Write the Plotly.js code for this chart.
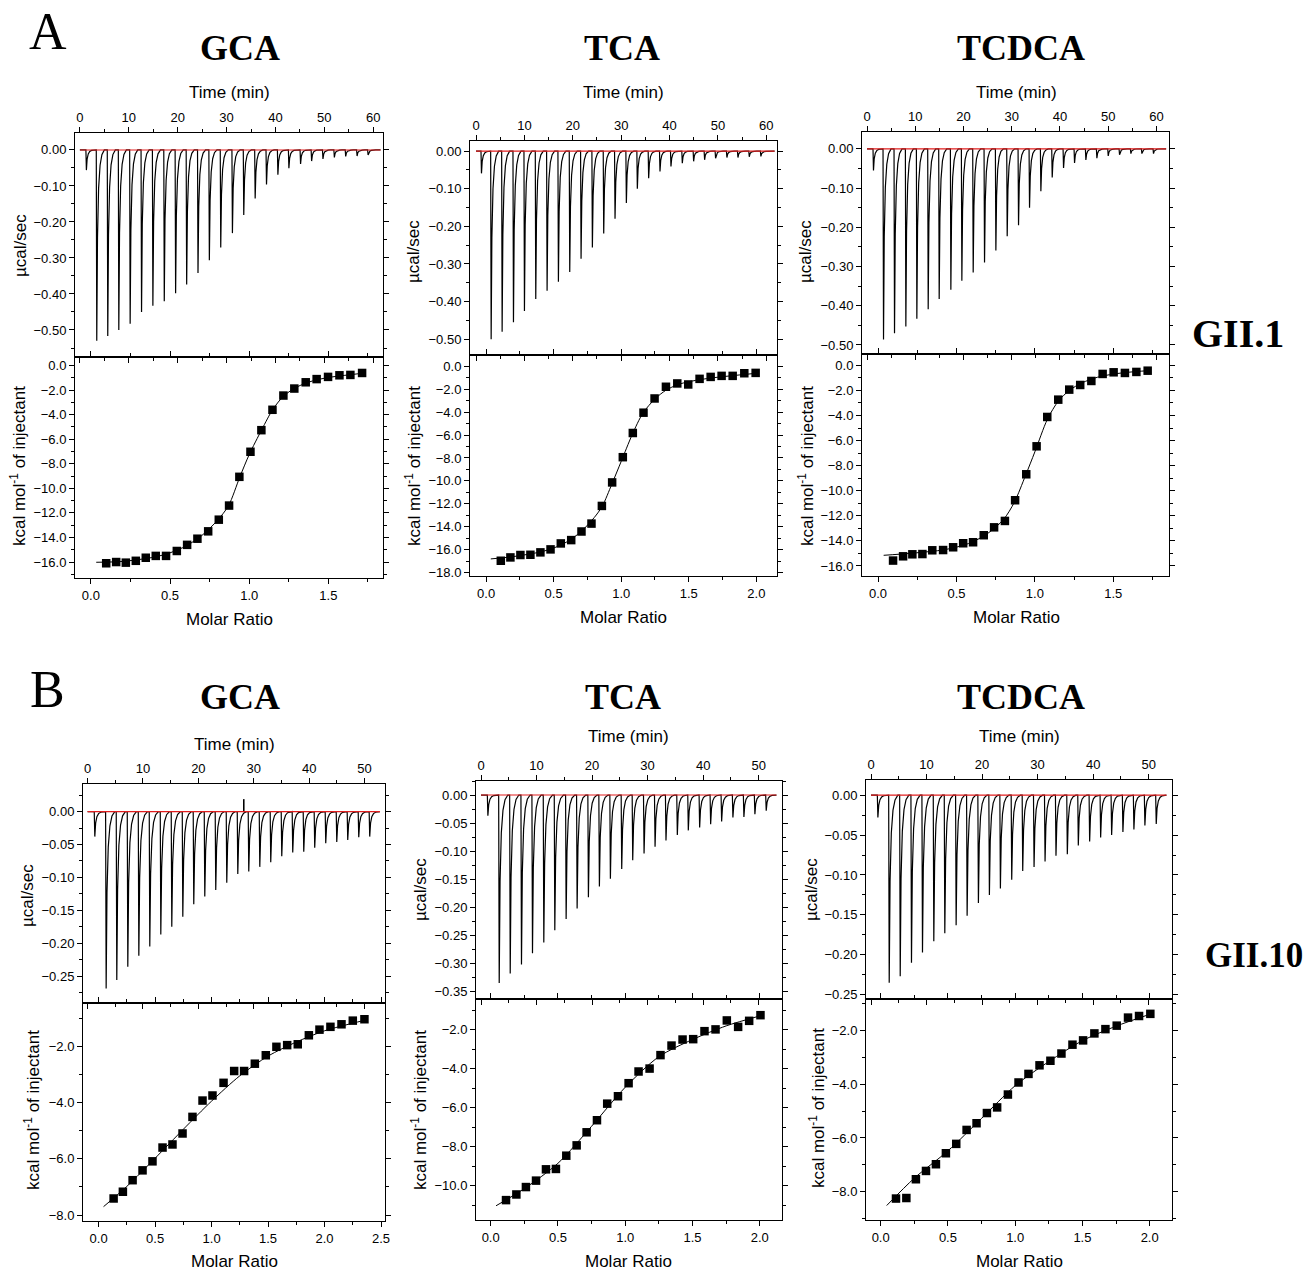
<!DOCTYPE html>
<html><head><meta charset="utf-8">
<script src="https://cdn.plot.ly/plotly-3.0.1.min.js"></script>
<style>html,body{margin:0;padding:0;background:#fff;} #chart{width:1303px;height:1271px;}</style>
</head><body><div id="chart"></div>
<script>
// ---------- A / GII.1 / GCA ----------
const aGcaInjTime = [1.23,3.35,5.60,7.86,10.18,12.51,14.83,17.16,19.48,21.74,24.06,26.38,28.71,31.10,33.42,35.75,38.07,40.40,42.65,45.04,47.30,49.62,51.95,54.27,56.60,58.85];
const aGcaInjPeak = [-0.056,-0.53,-0.517,-0.50,-0.483,-0.45,-0.433,-0.42,-0.398,-0.374,-0.342,-0.306,-0.271,-0.231,-0.181,-0.135,-0.096,-0.069,-0.051,-0.039,-0.031,-0.025,-0.021,-0.018,-0.017,-0.014];
const aGcaBaseT = [0, 61.5];
const aGcaRatio = [0.097,0.160,0.221,0.284,0.347,0.410,0.475,0.543,0.608,0.673,0.741,0.808,0.873,0.938,1.008,1.077,1.147,1.216,1.285,1.357,1.426,1.498,1.570,1.639,1.713];
const aGcaHeat = [-16.1,-16.0,-16.05,-15.9,-15.65,-15.5,-15.5,-15.1,-14.6,-14.1,-13.5,-12.55,-11.4,-9.06,-7.02,-5.26,-3.6,-2.44,-1.87,-1.36,-1.1,-0.92,-0.79,-0.76,-0.6];
const aGcaFitX = [0.034,0.2,0.4,0.5,0.6,0.7,0.8,0.87,0.94,1.0,1.08,1.15,1.22,1.3,1.4,1.5,1.6,1.713];
const aGcaFitY = [-16.02,-15.95,-15.6,-15.25,-14.7,-13.85,-12.6,-11.4,-9.1,-7.25,-5.2,-3.55,-2.45,-1.75,-1.25,-0.97,-0.8,-0.63];

// ---------- A / GII.1 / TCA ----------
const aTcaInjTime = [1.03,3.03,5.30,7.64,9.91,12.25,14.59,16.93,19.27,21.61,23.95,26.29,28.63,30.97,33.24,35.58,37.92,40.19,42.53,44.87,47.14,49.41,51.75,54.03,56.37,58.77];
const aTcaInjPeak = [-0.059,-0.50,-0.48,-0.455,-0.425,-0.393,-0.371,-0.347,-0.321,-0.286,-0.256,-0.219,-0.18,-0.138,-0.100,-0.072,-0.054,-0.041,-0.032,-0.027,-0.023,-0.019,-0.017,-0.017,-0.015,-0.014];
const aTcaBaseT = [0, 61.7];
const aTcaRatio = [0.109,0.180,0.254,0.328,0.402,0.477,0.553,0.630,0.706,0.780,0.857,0.933,1.012,1.086,1.165,1.247,1.331,1.415,1.496,1.580,1.662,1.743,1.825,1.911,1.995];
const aTcaHeat = [-16.96,-16.67,-16.46,-16.44,-16.23,-15.97,-15.45,-15.16,-14.41,-13.72,-12.18,-10.13,-7.93,-5.82,-4.05,-2.81,-1.79,-1.50,-1.59,-1.10,-0.93,-0.84,-0.84,-0.61,-0.58];
const aTcaFitX = [0.035,0.2,0.4,0.5,0.6,0.7,0.8,0.86,0.93,1.0,1.08,1.16,1.25,1.33,1.42,1.5,1.65,1.8,1.995];
const aTcaFitY = [-16.8,-16.6,-16.2,-15.85,-15.3,-14.45,-13.2,-12.2,-10.3,-8.3,-6.0,-4.1,-2.85,-2.1,-1.6,-1.35,-1.05,-0.85,-0.62];

// ---------- A / GII.1 / TCDCA ----------
const aTcdcaInjTime = [1.24,3.32,5.60,7.95,10.23,12.58,14.86,17.28,19.56,21.91,24.26,26.61,28.96,31.31,33.59,35.94,38.29,40.64,42.92,45.27,47.55,49.90,52.25,54.60,56.88,59.29];
const aTcdcaInjPeak = [-0.055,-0.486,-0.470,-0.453,-0.433,-0.409,-0.383,-0.359,-0.336,-0.315,-0.29,-0.259,-0.223,-0.195,-0.150,-0.108,-0.073,-0.049,-0.036,-0.028,-0.024,-0.018,-0.015,-0.012,-0.012,-0.012];
const aTcdcaBaseT = [0, 62.0];
const aTcdcaRatio = [0.096,0.160,0.219,0.283,0.346,0.415,0.479,0.543,0.606,0.674,0.740,0.809,0.874,0.945,1.011,1.079,1.149,1.219,1.289,1.360,1.432,1.502,1.574,1.647,1.719];
const aTcdcaHeat = [-15.57,-15.23,-15.07,-15.05,-14.75,-14.73,-14.51,-14.19,-14.11,-13.55,-12.92,-12.41,-10.76,-8.69,-6.46,-4.12,-2.74,-1.94,-1.57,-1.25,-0.69,-0.56,-0.61,-0.53,-0.43];
const aTcdcaFitX = [0.036,0.2,0.4,0.5,0.6,0.7,0.8,0.87,0.94,1.0,1.08,1.15,1.22,1.3,1.4,1.5,1.6,1.719];
const aTcdcaFitY = [-15.15,-15.0,-14.75,-14.5,-14.1,-13.4,-12.3,-10.9,-8.8,-6.9,-4.3,-2.85,-2.0,-1.4,-0.95,-0.7,-0.55,-0.43];

// ---------- B / GII.10 / GCA ----------
const bGcaInjTime = [1.20,3.25,5.17,7.16,9.15,11.13,13.12,15.10,17.09,19.07,21.06,23.04,25.03,27.02,29.00,30.99,32.97,34.96,36.94,38.93,40.91,42.90,44.89,46.87,48.86,50.84];
const bGcaInjPeak = [-0.038,-0.269,-0.256,-0.236,-0.219,-0.205,-0.187,-0.175,-0.160,-0.141,-0.129,-0.119,-0.108,-0.095,-0.091,-0.084,-0.077,-0.068,-0.062,-0.061,-0.055,-0.048,-0.046,-0.043,-0.039,-0.038];
const bGcaArtifactTime = [28.2];
const bGcaArtifactValue = [0.019];
const bGcaBaseT = [0, 52.8];
const bGcaRatio = [0.133,0.215,0.301,0.389,0.477,0.566,0.654,0.743,0.831,0.920,1.008,1.106,1.200,1.288,1.383,1.480,1.574,1.669,1.763,1.861,1.955,2.052,2.150,2.250,2.353];
const bGcaHeat = [-7.41,-7.17,-6.76,-6.41,-6.09,-5.60,-5.49,-5.10,-4.51,-3.93,-3.75,-3.30,-2.88,-2.88,-2.62,-2.32,-2.02,-1.96,-1.93,-1.61,-1.41,-1.31,-1.22,-1.09,-1.04];
const bGcaFitX = [0.044,0.25,0.5,0.75,1.0,1.25,1.5,1.75,2.0,2.25,2.353];
const bGcaFitY = [-7.70,-6.98,-5.98,-4.95,-3.95,-3.05,-2.35,-1.85,-1.45,-1.18,-1.08];

// ---------- B / GII.10 / TCA ----------
const bTcaInjTime = [1.14,3.18,5.16,7.19,9.17,11.21,13.19,15.23,17.21,19.24,21.22,23.20,25.24,27.22,29.26,31.24,33.21,35.25,37.23,39.27,41.25,43.23,45.26,47.24,49.22,51.26];
const bTcaInjPeak = [-0.037,-0.335,-0.318,-0.302,-0.282,-0.263,-0.241,-0.221,-0.202,-0.182,-0.163,-0.149,-0.132,-0.116,-0.104,-0.092,-0.081,-0.071,-0.063,-0.058,-0.052,-0.047,-0.040,-0.039,-0.034,-0.028];
const bTcaBaseT = [0, 53.2];
const bTcaRatio = [0.114,0.191,0.262,0.337,0.411,0.485,0.562,0.639,0.713,0.790,0.866,0.946,1.025,1.099,1.181,1.262,1.344,1.426,1.505,1.589,1.671,1.755,1.839,1.921,2.005];
const bTcaHeat = [-10.74,-10.45,-10.07,-9.74,-9.16,-9.14,-8.46,-7.93,-7.26,-6.64,-5.79,-5.41,-4.74,-4.14,-3.99,-3.30,-2.81,-2.50,-2.48,-2.07,-1.98,-1.52,-1.85,-1.54,-1.25];
const bTcaFitX = [0.04,0.25,0.5,0.75,1.0,1.25,1.5,1.75,2.005];
const bTcaFitY = [-11.03,-10.15,-8.85,-6.95,-4.95,-3.38,-2.5,-1.8,-1.28];

// ---------- B / GII.10 / TCDCA ----------
const bTcdcaInjTime = [1.14,3.18,5.16,7.19,9.17,11.21,13.19,15.23,17.21,19.24,21.22,23.20,25.24,27.22,29.26,31.24,33.21,35.25,37.23,39.27,41.25,43.23,45.26,47.24,49.22,51.26];
const bTcdcaInjPeak = [-0.028,-0.235,-0.227,-0.210,-0.197,-0.183,-0.173,-0.163,-0.151,-0.135,-0.125,-0.117,-0.106,-0.095,-0.090,-0.083,-0.076,-0.074,-0.063,-0.058,-0.053,-0.050,-0.046,-0.043,-0.038,-0.036];
const bTcdcaBaseT = [0, 53.2];
const bTcdcaRatio = [0.114,0.191,0.262,0.337,0.411,0.485,0.562,0.639,0.713,0.790,0.866,0.946,1.025,1.099,1.181,1.262,1.344,1.426,1.505,1.589,1.671,1.755,1.839,1.921,2.005];
const bTcdcaHeat = [-8.26,-8.24,-7.54,-7.23,-6.98,-6.57,-6.22,-5.70,-5.45,-5.07,-4.86,-4.38,-3.93,-3.61,-3.29,-3.12,-2.85,-2.52,-2.36,-2.10,-1.94,-1.81,-1.51,-1.45,-1.37];
const bTcdcaFitX = [0.045,0.25,0.5,0.75,1.0,1.25,1.5,1.75,2.005];
const bTcdcaFitY = [-8.52,-7.5,-6.48,-5.27,-4.05,-3.15,-2.37,-1.83,-1.38];

// ---------- labels ----------
const compoundNames = ['GCA','TCA','TCDCA'];
const sectionLetters = ['A','B'];
const strainNames = ['GII.1','GII.10'];
const timeTitle = 'Time (min)';
const ratioTitle = 'Molar Ratio';
const powerTitle = 'µcal/sec';
const heatTitle = 'kcal mol<sup>-1</sup> of injectant';

// ---------- rendering ----------
const W = 1303, H = 1271;
const SANS = '"Liberation Sans", Arial, sans-serif';
const SERIF = '"Liberation Serif", "Times New Roman", serif';
// shape template of one injection peak (time offset in min, fraction of peak depth)
const PEAK_OFFSET = [0, 0.1, 0.25, 0.48, 0.78, 1.15, 1.65];
const PEAK_SHAPE  = [0, 1, 0.46, 0.2, 0.08, 0.025, 0];

function rawTrace(times, peaks, baseT) {
  const x = [baseT[0]], y = [0];
  for (let i = 0; i < times.length; i++) {
    for (let k = 0; k < PEAK_OFFSET.length; k++) {
      x.push(times[i] + PEAK_OFFSET[k]);
      y.push(peaks[i] * PEAK_SHAPE[k]);
    }
  }
  x.push(baseT[1]); y.push(0);
  return {x, y};
}

const panels = [
  {inj:[aGcaInjTime,aGcaInjPeak], base:aGcaBaseT, pts:[aGcaRatio,aGcaHeat], fit:[aGcaFitX,aGcaFitY],
   px:[75,383], top:[133,357], bot:[357,578], tR:[-1,62], pR:[-0.575,0.047], pD:0.1, mR:[-0.1,1.845], hR:[-17.3,0.7]},
  {inj:[aTcaInjTime,aTcaInjPeak], base:aTcaBaseT, pts:[aTcaRatio,aTcaHeat], fit:[aTcaFitX,aTcaFitY],
   px:[470,777], top:[141,355], bot:[355,576], tR:[-1.24,62.2], pR:[-0.542,0.027], pD:0.1, mR:[-0.119,2.153], hR:[-18.29,0.98]},
  {inj:[aTcdcaInjTime,aTcdcaInjPeak], base:aTcdcaBaseT, pts:[aTcdcaRatio,aTcdcaHeat], fit:[aTcdcaFitX,aTcdcaFitY],
   px:[862,1169], top:[132,354], bot:[354,576], tR:[-1.04,62.6], pR:[-0.523,0.043], pD:0.1, mR:[-0.102,1.855], hR:[-16.8,0.9]},
  {inj:[bGcaInjTime,bGcaInjPeak], base:bGcaBaseT, pts:[bGcaRatio,bGcaHeat], fit:[bGcaFitX,bGcaFitY],
   art:[bGcaArtifactTime,bGcaArtifactValue],
   px:[83,385], top:[784,1003], bot:[1003,1221], tR:[-0.83,53.7], pR:[-0.291,0.042], pD:0.05, mR:[-0.138,2.535], hR:[-8.21,-0.463]},
  {inj:[bTcaInjTime,bTcaInjPeak], base:bTcaBaseT, pts:[bTcaRatio,bTcaHeat], fit:[bTcaFitX,bTcaFitY],
   px:[476,782], top:[781,999], bot:[999,1220], tR:[-0.9,54.2], pR:[-0.3635,0.025], pD:0.05, mR:[-0.109,2.165], hR:[-11.76,-0.42]},
  {inj:[bTcdcaInjTime,bTcdcaInjPeak], base:bTcdcaBaseT, pts:[bTcdcaRatio,bTcdcaHeat], fit:[bTcdcaFitX,bTcdcaFitY],
   px:[866,1172], top:[780,999], bot:[999,1220], tR:[-0.9,54.2], pR:[-0.2554,0.019], pD:0.05, mR:[-0.109,2.166], hR:[-9.06,-0.816]}
];

function axBase() {
  return {showline:true, linecolor:'#000', linewidth:1, mirror:'allticks', ticks:'outside', ticklen:5,
          tickwidth:1, tickcolor:'#000', showgrid:false, zeroline:false, fixedrange:true,
          tickfont:{family:SANS, size:13, color:'#000'}};
}
const xd = (a) => [a[0]/W, a[1]/W];
const yd = (a) => [1 - a[1]/H, 1 - a[0]/H];

const traces = [];
const layout = {width:W, height:H, margin:{l:0,r:0,t:0,b:0}, paper_bgcolor:'#fff', plot_bgcolor:'#fff',
                showlegend:false, annotations:[]};

panels.forEach((p, i) => {
  const nT = 2*i + 1, nB = 2*i + 2;
  const sx = (n) => n === 1 ? 'x' : 'x' + n;
  const sy = (n) => n === 1 ? 'y' : 'y' + n;
  const kx = (n) => n === 1 ? 'xaxis' : 'xaxis' + n;
  const ky = (n) => n === 1 ? 'yaxis' : 'yaxis' + n;

  // top raw power
  layout[kx(nT)] = Object.assign(axBase(), {domain:xd(p.px), anchor:sy(nT), side:'top', range:p.tR, tick0:0, dtick:10,
      minor:{ticks:'outside', ticklen:3, tickcolor:'#000', dtick:5, tick0:0, showgrid:false}});
  layout[ky(nT)] = Object.assign(axBase(), {domain:yd(p.top), anchor:sx(nT), range:p.pR, tick0:0, dtick:p.pD, tickformat:'.2f',
      minor:{ticks:'outside', ticklen:3, tickcolor:'#000', dtick:p.pD/2, tick0:0, showgrid:false}});
  // bottom integrated heat
  layout[kx(nB)] = Object.assign(axBase(), {domain:xd(p.px), anchor:sy(nB), side:'bottom', range:p.mR, tick0:0, dtick:0.5, tickformat:'.1f',
      minor:{ticks:'outside', ticklen:3, tickcolor:'#000', dtick:0.25, tick0:0, showgrid:false}});
  layout[ky(nB)] = Object.assign(axBase(), {domain:yd(p.bot), anchor:sx(nB), range:p.hR, tick0:0, dtick:2, tickformat:'.1f',
      minor:{ticks:'outside', ticklen:3, tickcolor:'#000', dtick:1, tick0:0, showgrid:false}});

  const r = rawTrace(p.inj[0], p.inj[1], p.base);
  traces.push({type:'scatter', mode:'lines', x:r.x, y:r.y, xaxis:sx(nT), yaxis:sy(nT),
               line:{color:'#000', width:1.2}, hoverinfo:'skip'});
  if (p.art) {
    p.art[0].forEach((t, k) => {
      traces.push({type:'scatter', mode:'lines', x:[t, t], y:[0, p.art[1][k]], xaxis:sx(nT), yaxis:sy(nT),
                   line:{color:'#000', width:1.6}, hoverinfo:'skip'});
    });
  }
  traces.push({type:'scatter', mode:'lines', x:p.base, y:p.base.map(() => 0), xaxis:sx(nT), yaxis:sy(nT),
               line:{color:'rgb(225,30,30)', width:1.1}, hoverinfo:'skip'});

  traces.push({type:'scatter', mode:'lines', x:p.fit[0], y:p.fit[1], xaxis:sx(nB), yaxis:sy(nB),
               line:{color:'#000', width:1, shape:'spline', smoothing:0.8}, hoverinfo:'skip'});
  traces.push({type:'scatter', mode:'markers', x:p.pts[0], y:p.pts[1], xaxis:sx(nB), yaxis:sy(nB),
               marker:{symbol:'square', size:8.5, color:'#000', line:{width:0}}, hoverinfo:'skip'});
});

function ann(text, x, y, font, extra) {
  layout.annotations.push(Object.assign({text:text, xref:'paper', yref:'paper', x:x/W, y:1 - y/H,
    xanchor:'center', yanchor:'middle', showarrow:false, font:font}, extra || {}));
}
const titleFont = {family:SANS, size:17, color:'#000'};
const boldSerif = {family:SERIF, size:36, color:'#000'};

// compound names
[[240,48],[622,48],[1021,48]].forEach((c,i) => ann('<b>' + compoundNames[i] + '</b>', c[0], c[1], boldSerif));
[[240,697],[623,697],[1021,697]].forEach((c,i) => ann('<b>' + compoundNames[i] + '</b>', c[0], c[1], boldSerif));
// section letters
ann(sectionLetters[0], 48, 32, {family:SERIF, size:52, color:'#000'});
ann(sectionLetters[1], 47, 689, {family:SERIF, size:52, color:'#000'});
// strains
ann('<b>' + strainNames[0] + '</b>', 1190, 334, {family:SERIF, size:40, color:'#000'}, {xanchor:'left'});
ann('<b>' + strainNames[1] + '</b>', 1203, 955, {family:SERIF, size:35, color:'#000'}, {xanchor:'left'});
// time titles
[[229,92],[623,92],[1016,92],[234,744],[628,736],[1019,736]].forEach(c => ann(timeTitle, c[0], c[1], titleFont));
// molar ratio titles
[[229,619],[623,617],[1016,617],[234,1261],[628,1261],[1019,1261]].forEach(c => ann(ratioTitle, c[0], c[1], titleFont));
// y titles
[[20,246],[414,252],[806,252],[27,895],[420,890],[811,890]].forEach(c => ann(powerTitle, c[0], c[1], titleFont, {textangle:-90}));
[[18,466],[413,466],[806,466],[32,1110],[419,1110],[817,1108]].forEach(c => ann(heatTitle, c[0], c[1], titleFont, {textangle:-90}));

Plotly.newPlot('chart', traces, layout, {staticPlot:true, displayModeBar:false});
</script>
</body></html>
